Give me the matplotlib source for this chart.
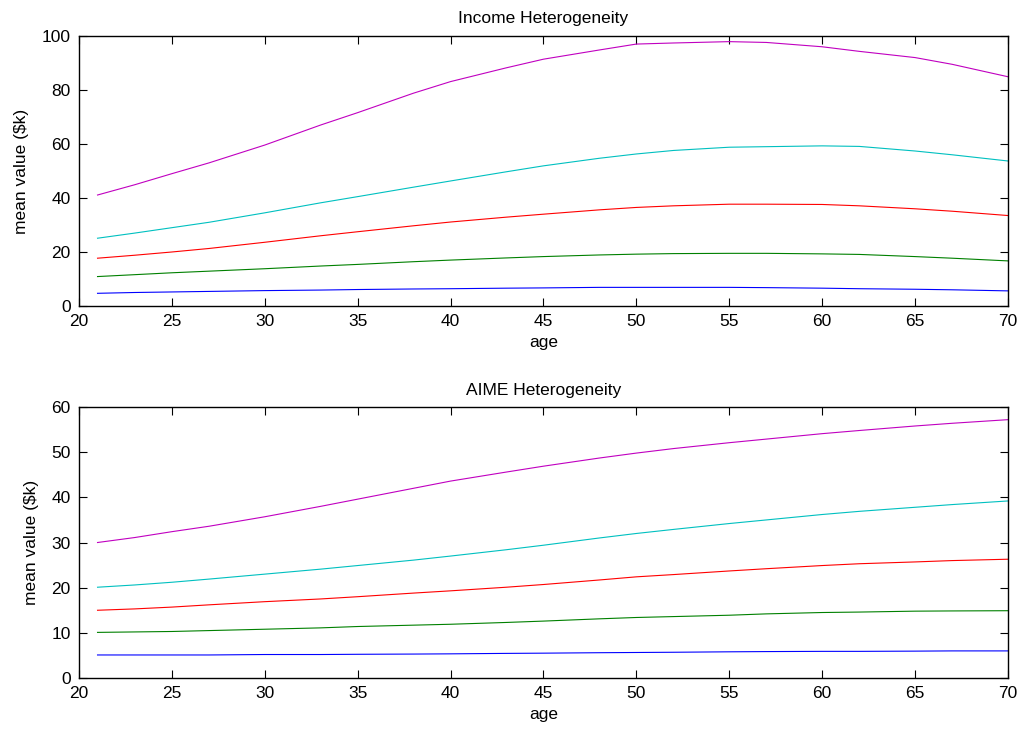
import matplotlib.pyplot as plt

plt.rcParams['font.family'] = ['Liberation Sans', 'DejaVu Sans']

ages = [21, 23, 25, 27, 30, 33, 35, 38, 40, 43, 45, 48, 50, 52, 55, 57, 60, 62, 65, 67, 70]

# income heterogeneity, mean value ($k), lowest to highest group
inc_q1 = [4.7, 5.0, 5.2, 5.4, 5.7, 5.9, 6.1, 6.3, 6.4, 6.6, 6.7, 6.9, 6.9, 6.9, 6.9, 6.8, 6.6, 6.4, 6.2, 6.0, 5.6]
inc_q2 = [10.9, 11.6, 12.3, 12.9, 13.8, 14.8, 15.4, 16.4, 17.0, 17.8, 18.3, 18.9, 19.2, 19.4, 19.5, 19.5, 19.3, 19.1, 18.3, 17.7, 16.7]
inc_q3 = [17.7, 18.8, 20.0, 21.3, 23.6, 26.0, 27.5, 29.7, 31.1, 32.9, 34.0, 35.6, 36.5, 37.1, 37.7, 37.7, 37.6, 37.1, 36.0, 35.1, 33.5]
inc_q4 = [25.1, 27.0, 29.0, 31.0, 34.5, 38.2, 40.5, 44.0, 46.3, 49.7, 51.9, 54.7, 56.3, 57.6, 58.8, 59.0, 59.3, 59.1, 57.4, 56.0, 53.7]
inc_q5 = [41.1, 44.9, 49.0, 53.0, 59.6, 67.0, 71.6, 78.8, 83.1, 88.2, 91.4, 94.8, 97.0, 97.4, 97.9, 97.6, 96.0, 94.3, 92.0, 89.5, 84.9]

# AIME heterogeneity, mean value ($k)
aime_q1 = [5.1, 5.1, 5.1, 5.1, 5.2, 5.2, 5.25, 5.3, 5.35, 5.45, 5.5, 5.6, 5.65, 5.7, 5.8, 5.85, 5.9, 5.9, 5.95, 6.0, 6.0]
aime_q2 = [10.1, 10.2, 10.3, 10.5, 10.8, 11.1, 11.4, 11.7, 11.9, 12.3, 12.6, 13.1, 13.4, 13.6, 13.9, 14.2, 14.5, 14.6, 14.8, 14.85, 14.9]
aime_q3 = [15.0, 15.3, 15.7, 16.2, 16.9, 17.5, 18.0, 18.8, 19.3, 20.1, 20.7, 21.7, 22.4, 22.9, 23.7, 24.2, 24.9, 25.3, 25.7, 26.0, 26.3]
aime_q4 = [20.1, 20.6, 21.2, 21.9, 23.0, 24.1, 24.9, 26.1, 27.0, 28.4, 29.4, 31.0, 32.0, 32.9, 34.2, 35.0, 36.2, 36.9, 37.8, 38.4, 39.2]
aime_q5 = [30.0, 31.1, 32.4, 33.6, 35.7, 38.0, 39.6, 42.0, 43.6, 45.6, 46.9, 48.7, 49.8, 50.8, 52.1, 52.9, 54.1, 54.8, 55.8, 56.4, 57.2]

colors = ['#0000ff', '#008000', '#ff0000', '#00c0c0', '#c000c0']

fig = plt.figure(figsize=(10.24, 7.31), dpi=100)
ax1 = fig.add_axes([0.0771, 0.5814, 0.9072, 0.3694])
ax2 = fig.add_axes([0.0771, 0.0725, 0.9072, 0.3707])

panels = [
    (ax1, [inc_q1, inc_q2, inc_q3, inc_q4, inc_q5], 'Income Heterogeneity', 100, 20),
    (ax2, [aime_q1, aime_q2, aime_q3, aime_q4, aime_q5], 'AIME Heterogeneity', 60, 10),
]

for ax, series, title, ymax, ystep in panels:
    for s, c in zip(series, colors):
        ax.plot(ages, s, color=c, lw=0.8)
    ax.set_xlim(20, 70)
    ax.set_ylim(0, ymax)
    ax.set_xticks(range(20, 71, 5))
    ax.set_yticks(range(0, ymax + 1, ystep))
    ax.tick_params(direction='in', top=True, right=True, length=6, width=0.8,
                   labelsize=12.5, colors='black', pad=6)
    for sp in ax.spines.values():
        sp.set_linewidth(1.0)
    ax.set_title(title, fontsize=12.5, pad=9)
    ax.set_xlabel('age', fontsize=12.5, labelpad=4)
    ax.set_ylabel('mean value ($k)', fontsize=12.5, labelpad=9)

fig.savefig('out.png', dpi=100)
